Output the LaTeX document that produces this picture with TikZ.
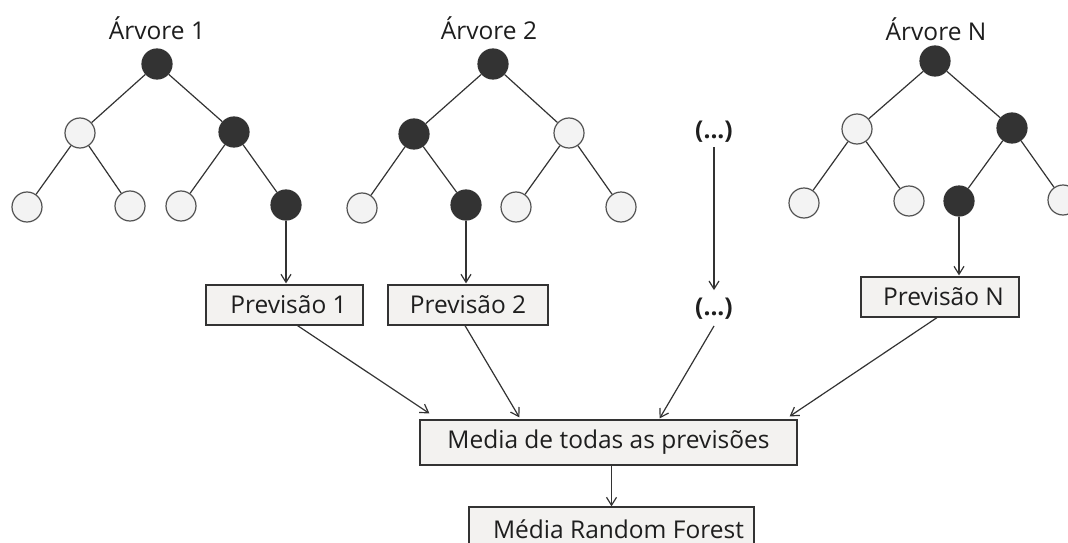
\documentclass[tikz,border=0pt]{standalone}
\usepackage{fontspec}
\setmainfont{Open Sans}
\usetikzlibrary{arrows.meta}
\definecolor{dk}{HTML}{333333}
\definecolor{tx}{HTML}{1E1E1E}
\definecolor{lt}{HTML}{F3F3F3}
\definecolor{bx}{HTML}{F3F2F0}
\begin{document}
\begin{tikzpicture}[x=1pt,y=-1pt,
 dnode/.style={circle,draw=dk,fill=dk,minimum size=30pt,inner sep=0pt,line width=1.2pt},
 lnode/.style={circle,draw=dk!85,fill=lt,minimum size=30pt,inner sep=0pt,line width=1.2pt},
 tedge/.style={draw=dk,line width=1.2pt},
 arr/.style={draw=dk,line width=1.2pt,-{Straight Barb[length=8pt,width=10pt]}},
 pbox/.style={draw=dk,fill=bx,line width=1.2pt,minimum height=40pt,inner sep=0pt},
 lbl/.style={font=\fontsize{24.5}{28}\selectfont,text=tx,inner sep=0pt}
]
\useasboundingbox[fill=white] (0,0) rectangle (1068,543);
% Tree 1
\node[lbl] (t1) at (157,28) {Árvore 1};
\node[dnode] (a0) at (157,64) {};
\node[lnode] (a1) at (80,133) {};
\node[dnode] (a2) at (234,132) {};
\node[lnode] (a3) at (27,207) {};
\node[lnode] (a4) at (130,206) {};
\node[lnode] (a5) at (181,206) {};
\node[dnode] (a6) at (286,205) {};
\draw[tedge] (a0)--(a1) (a0)--(a2) (a1)--(a3) (a1)--(a4) (a2)--(a5) (a2)--(a6);
% Tree 2
\node[lbl] (t2) at (489,28) {Árvore 2};
\node[dnode] (b0) at (493,64) {};
\node[dnode] (b1) at (414,134) {};
\node[lnode] (b2) at (569,133) {};
\node[lnode] (b3) at (362,208) {};
\node[dnode] (b4) at (466,205) {};
\node[lnode] (b5) at (516,207) {};
\node[lnode] (b6) at (621,207) {};
\draw[tedge] (b0)--(b1) (b0)--(b2) (b1)--(b3) (b1)--(b4) (b2)--(b5) (b2)--(b6);
% Tree N
\node[lbl] (tn) at (936,29) {Árvore N};
\node[dnode] (c0) at (935,61) {};
\node[lnode] (c1) at (857,129) {};
\node[dnode] (c2) at (1012,128) {};
\node[lnode] (c3) at (804,203) {};
\node[lnode] (c4) at (909,201) {};
\node[dnode] (c5) at (959,201) {};
\node[lnode] (c6) at (1063,200) {};
\draw[tedge] (c0)--(c1) (c0)--(c2) (c1)--(c3) (c1)--(c4) (c2)--(c5) (c2)--(c6);
% dots
\node[lbl,font=\fontsize{24.5}{28}\selectfont\bfseries] (d1) at (714,132) {(...)};
\node[lbl,font=\fontsize{24.5}{28}\selectfont\bfseries] (d2) at (714,309) {(...)};
% prediction boxes
\node[pbox,lbl,minimum width=157pt,minimum height=40pt] (p1) at (284.5,305) {\hspace*{8pt}Previsão 1};
\node[pbox,lbl,minimum width=160pt,minimum height=40pt] (p2) at (468,305) {Previsão 2};
\node[pbox,lbl,minimum width=158pt,minimum height=40pt] (pn) at (940,297) {\hspace*{7pt}Previsão N};
\node[pbox,lbl,minimum width=377pt,minimum height=45pt] (m) at (608.5,442.5) {Media de todas as previsões};
\node[pbox,lbl,minimum width=285pt,minimum height=44pt] (r) at (611.5,529) {\hspace*{14pt}Média Random Forest};
% arrows
\draw[arr] (a6) -- ([yshift=1pt]a6 |- p1.north);
\draw[arr] (b4) -- ([yshift=1pt]b4 |- p2.north);
\draw[arr] (c5) -- ([yshift=1pt]c5 |- pn.north);
\draw[arr] ([yshift=-15pt]d1.center) -- ([yshift=8pt]d2.north);
\draw[arr] ([xshift=13pt]p1.south) -- ([xshift=10pt,yshift=6pt]m.north west);
\draw[arr] ([xshift=-3pt]p2.south) -- ([xshift=100pt,yshift=2pt]m.north west);
\draw[arr] ([yshift=-17pt]d2.center) -- ([xshift=-138pt,yshift=1pt]m.north east);
\draw[arr] ([xshift=-3pt]pn.south) -- ([xshift=-8pt,yshift=3pt]m.north east);
\draw[arr] (m.south -| r.north) -- (r.north);
\end{tikzpicture}
\end{document}
